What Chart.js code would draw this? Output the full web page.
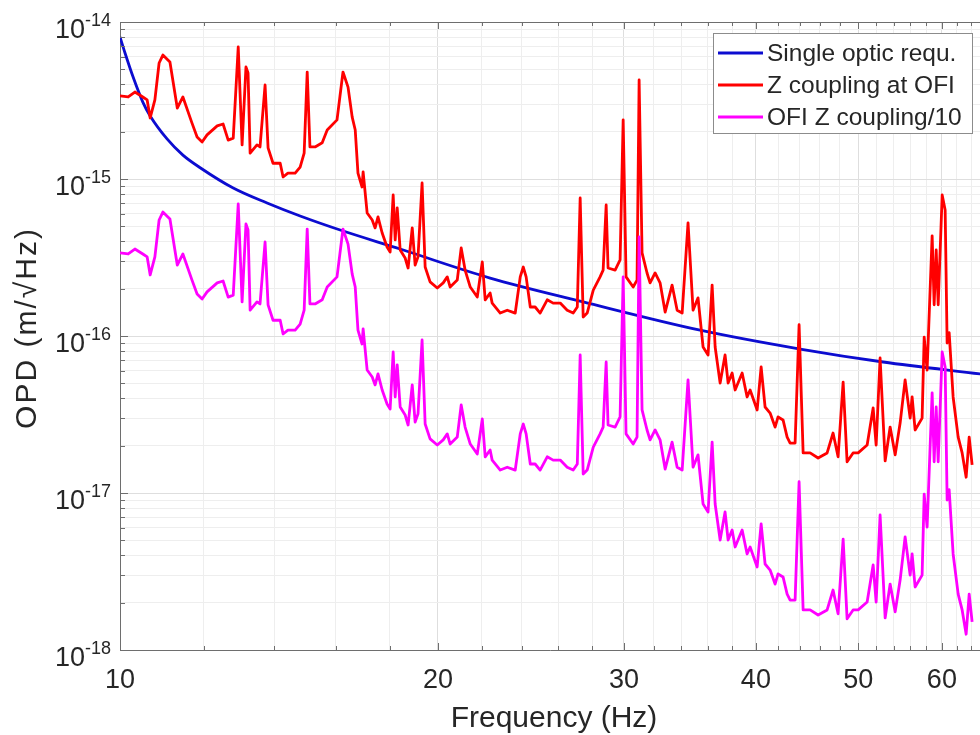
<!DOCTYPE html>
<html>
<head>
<meta charset="utf-8">
<script src="https://cdn.jsdelivr.net/npm/chart.js@4/dist/chart.umd.min.js"></script>
<style>
html,body{margin:0;padding:0;background:#fff;}
#wrap{width:980px;height:735px;position:relative;}
</style>
</head>
<body>
<div id="wrap"><canvas id="c" width="980" height="735"></canvas></div>
<script>
// ---- data ----
const seriesNames = ['Single optic requ.', 'Z coupling at OFI', 'OFI Z coupling/10'];

const requFreq = [10.00,10.11,10.29,10.51,10.68,11.08,11.47,11.91,12.80,13.78,14.81,16.16,18.42,22.41,27.45,35.42,44.06,52.79,65.22];
const requOPD  = [8.03e-15,6.35e-15,4.46e-15,3.09e-15,2.52e-15,1.80e-15,1.42e-15,1.18e-15,8.76e-16,7.03e-16,5.81e-16,4.73e-16,3.58e-16,2.34e-16,1.65e-16,1.09e-16,8.26e-17,6.83e-17,5.73e-17];

const zFreq = [
 10.0,10.18,10.33,10.51,10.61,10.68,10.79,10.89,10.98,11.15,
 11.33,11.47,11.70,11.83,11.96,12.09,12.36,12.52,12.66,12.80,
 12.94,13.05,13.16,13.22,13.28,13.48,13.57,13.72,13.81,13.96,
 14.18,14.27,14.42,14.65,14.81,14.94,15.04,15.13,15.30,15.54,
 15.71,16.05,16.26,16.44,16.59,16.70,16.80,16.95,16.99,17.14,
 17.33,17.44,17.55,17.71,17.90,18.02,18.14,18.22,18.30,18.42,
 18.62,18.74,18.91,19.03,19.15,19.32,19.45,19.66,19.97,20.23,
 20.41,20.54,20.86,21.04,21.22,21.46,21.79,22.03,22.17,22.41,
 22.51,22.91,23.26,23.67,23.93,24.09,24.24,24.46,24.72,24.99,
 25.38,25.71,26.11,26.51,26.86,27.10,27.27,27.45,27.69,28.06,
 28.48,28.67,28.86,28.98,29.43,29.75,29.95,30.14,30.61,30.87,
 31.01,31.21,31.55,31.76,32.11,32.46,32.82,33.32,33.69,34.06,
 34.50,34.88,35.26,35.65,36.04,36.36,36.60,37.00,37.40,37.65,
 37.98,38.23,38.82,39.24,39.50,40.11,40.46,40.81,41.26,41.71,
 41.98,42.44,42.82,43.10,43.57,43.95,44.34,45.02,45.81,46.72,
 47.33,47.85,48.38,48.80,49.44,49.99,50.98,51.65,51.99,52.44,
 53.02,53.60,54.19,54.78,55.38,55.99,56.23,56.60,57.47,57.73,
 58.10,58.74,59.00,59.26,59.52,60.04,60.43,60.69,60.96,61.49,
 62.17,62.71,63.26,63.68,64.09];

const zOPD = [
 3.38e-15,3.33e-15,3.58e-15,3.33e-15,3.19e-15,2.45e-15,3.19e-15,5.48e-15,6.16e-15,5.56e-15,
 2.83e-15,3.33e-15,2.27e-15,1.85e-15,1.72e-15,1.91e-15,2.18e-15,2.24e-15,1.77e-15,1.82e-15,
 6.93e-15,1.65e-15,5.17e-15,4.73e-15,1.46e-15,1.65e-15,1.60e-15,3.97e-15,1.58e-15,1.26e-15,
 1.26e-15,1.03e-15,1.09e-15,1.09e-15,1.19e-15,1.46e-15,4.80e-15,1.60e-15,1.60e-15,1.70e-15,
 2.05e-15,2.38e-15,4.80e-15,3.85e-15,2.48e-15,2.05e-15,1.09e-15,8.89e-16,1.11e-15,6.07e-16,
 5.48e-16,4.88e-16,5.73e-16,4.53e-16,3.69e-16,3.43e-16,7.91e-16,4.09e-16,6.54e-16,3.53e-16,
 3.14e-16,2.71e-16,4.88e-16,2.83e-16,3.19e-16,9.43e-16,2.75e-16,2.21e-16,2.02e-16,2.18e-16,
 2.38e-16,2.05e-16,2.27e-16,3.64e-16,2.63e-16,2.05e-16,1.77e-16,2.96e-16,1.70e-16,1.88e-16,
 1.62e-16,1.40e-16,1.46e-16,1.40e-16,2.38e-16,2.75e-16,2.38e-16,1.53e-16,1.53e-16,1.40e-16,
 1.70e-16,1.62e-16,1.62e-16,1.46e-16,1.40e-16,1.53e-16,7.57e-16,1.32e-16,1.40e-16,1.96e-16,
 2.38e-16,2.63e-16,6.83e-16,2.71e-16,2.63e-16,3.05e-16,2.38e-15,2.38e-16,2.05e-16,2.27e-16,
 4.27e-15,3.38e-16,2.52e-16,2.18e-16,2.52e-16,2.18e-16,1.42e-16,2.11e-16,1.46e-16,1.40e-16,
 5.25e-16,1.46e-16,1.75e-16,8.51e-17,7.57e-17,2.11e-16,8.51e-17,5.02e-17,7.57e-17,5.02e-17,
 5.81e-17,4.53e-17,5.81e-17,4.09e-17,4.53e-17,3.38e-17,6.35e-17,3.53e-17,3.23e-17,2.63e-17,
 3.05e-17,2.92e-17,2.27e-17,2.08e-17,2.08e-17,1.18e-16,1.80e-17,1.80e-17,1.67e-17,1.80e-17,
 2.41e-17,1.70e-17,5.09e-17,1.58e-17,1.80e-17,1.80e-17,2.02e-17,3.48e-17,2.02e-17,7.24e-17,
 1.60e-17,2.63e-17,1.75e-17,2.79e-17,5.25e-17,3.00e-17,4.09e-17,2.52e-17,3.00e-17,9.85e-17,
 6.07e-17,4.34e-16,1.58e-16,3.53e-16,1.58e-16,7.91e-16,6.35e-16,9.02e-17,1.05e-16,4.09e-17,
 2.27e-17,1.80e-17,1.26e-17,2.27e-17,1.51e-17];

// third series is, as its legend says, the Z coupling divided by 10
const ofiOPD = zOPD.map(v => v / 10);

const xTickValues = [10,12,14,16,18,20,22,24,26,28,30,32,34,36,38,40,42,44,46,48,50,52,54,56,58,60,62,64];
const xTickLabels = [10,20,30,40,50,60];
const yTickExponents = [-18,-17,-16,-15,-14];
const xRange = [10, 65.2];
const yRange = [1e-18, 1e-14];

// ---- styling ----
const FONT = "'Liberation Sans', Arial, Helvetica, sans-serif";
const TXT = '#262626';
const AXIS = '#6e6e6e';
const COLORS = ['#0c0cd0', '#ff0000', '#ff00ff'];

const pts = (xs, ys) => xs.map((x, i) => ({x, y: ys[i]}));
const isDecade = v => Math.abs(Math.log10(v) - Math.round(Math.log10(v))) < 1e-9;

const yTickValues = [];
for (let e = yTickExponents[0]; e < yTickExponents[yTickExponents.length - 1]; e++) {
  for (let m = 1; m <= 9; m++) yTickValues.push(m * Math.pow(10, e));
}
yTickValues.push(Math.pow(10, yTickExponents[yTickExponents.length - 1]));

const decor = {
  id: 'decor',
  afterDraw(chart) {
    const {ctx, chartArea: a, scales: {x, y}} = chart;
    ctx.save();
    // top box line
    ctx.strokeStyle = AXIS; ctx.lineWidth = 1;
    ctx.beginPath();
    ctx.moveTo(a.left, a.top + 0.5); ctx.lineTo(a.right, a.top + 0.5);
    // inward ticks
    xTickValues.forEach(v => {
      const px = Math.round(x.getPixelForValue(v)) + 0.5;
      const L = (v % 10 === 0) ? 7 : 4;
      ctx.moveTo(px, a.bottom); ctx.lineTo(px, a.bottom - L);
      ctx.moveTo(px, a.top); ctx.lineTo(px, a.top + L);
    });
    yTickValues.forEach(v => {
      const py = Math.round(y.getPixelForValue(v)) + 0.5;
      const L = isDecade(v) ? 8 : 5;
      ctx.moveTo(a.left, py); ctx.lineTo(a.left + L, py);
    });
    ctx.stroke();

    // x tick labels
    ctx.fillStyle = TXT;
    ctx.font = `27px ${FONT}`;
    ctx.textAlign = 'center'; ctx.textBaseline = 'alphabetic';
    xTickLabels.forEach(v => ctx.fillText(String(v), x.getPixelForValue(v), 688));

    // y tick labels 10^e
    yTickExponents.forEach(e => {
      const py = y.getPixelForValue(Math.pow(10, e));
      ctx.font = `18px ${FONT}`;
      const sup = String(e);
      const w = ctx.measureText(sup).width;
      ctx.textAlign = 'right';
      ctx.fillText(sup, 111, py + 4);
      ctx.font = `27px ${FONT}`;
      ctx.fillText('10', 111 - w, py + 16);
    });

    // axis titles
    ctx.font = `30px ${FONT}`;
    ctx.textAlign = 'center';
    ctx.fillText('Frequency (Hz)', 554, 727);
    ctx.save();
    ctx.translate(36, 328);
    ctx.rotate(-Math.PI / 2);
    try { ctx.letterSpacing = '2px'; } catch (err) {}
    ctx.fillText('OPD (m/\u221AHz)', 0, 0);
    try { ctx.letterSpacing = '0px'; } catch (err) {}
    ctx.restore();

    // legend
    const lx = 713, ly = 33, lw = 259, lh = 100;
    ctx.fillStyle = '#ffffff';
    ctx.fillRect(lx, ly, lw, lh);
    ctx.strokeStyle = '#8c8c8c'; ctx.lineWidth = 1;
    ctx.strokeRect(lx + 0.5, ly + 0.5, lw, lh);
    ctx.font = `24.5px ${FONT}`;
    ctx.textAlign = 'left'; ctx.textBaseline = 'middle';
    seriesNames.forEach((name, i) => {
      const ry = 53 + i * 32;
      ctx.strokeStyle = COLORS[i]; ctx.lineWidth = 2.8;
      ctx.beginPath(); ctx.moveTo(718, ry); ctx.lineTo(763, ry); ctx.stroke();
      ctx.fillStyle = TXT;
      ctx.fillText(name, 767, ry + 1);
    });
    ctx.restore();
  }
};

new Chart(document.getElementById('c'), {
  type: 'line',
  data: {
    datasets: [
      {label: seriesNames[0], data: pts(requFreq, requOPD), borderColor: COLORS[0], borderWidth: 2.8,
       cubicInterpolationMode: 'monotone', order: 3},
      {label: seriesNames[1], data: pts(zFreq, zOPD), borderColor: COLORS[1], borderWidth: 2.8,
       tension: 0, borderJoinStyle: 'round', order: 2},
      {label: seriesNames[2], data: pts(zFreq, ofiOPD), borderColor: COLORS[2], borderWidth: 2.8,
       tension: 0, borderJoinStyle: 'round', order: 1}
    ]
  },
  options: {
    responsive: false,
    devicePixelRatio: 1,
    animation: false,
    parsing: true,
    elements: {point: {radius: 0}},
    layout: {padding: {top: 22, right: 0, left: 0, bottom: 0}},
    plugins: {legend: {display: false}, tooltip: {enabled: false}, title: {display: false}},
    scales: {
      x: {
        type: 'logarithmic', min: xRange[0], max: xRange[1],
        afterBuildTicks: s => { s.ticks = xTickValues.map(v => ({value: v, major: v % 10 === 0})); },
        afterFit: s => { s.height = 85; },
        ticks: {display: false},
        grid: {drawTicks: false, lineWidth: 1,
               color: c => (c.tick && c.tick.value % 10 === 0) ? '#dedede' : '#eeeeee'},
        border: {display: true, color: AXIS, width: 1}
      },
      y: {
        type: 'logarithmic', min: yRange[0], max: yRange[1],
        afterBuildTicks: s => { s.ticks = yTickValues.map(v => ({value: v, major: isDecade(v)})); },
        afterFit: s => { s.width = 120; },
        ticks: {display: false},
        grid: {drawTicks: false, lineWidth: 1,
               color: c => (c.tick && isDecade(c.tick.value)) ? '#dedede' : '#eeeeee'},
        border: {display: true, color: AXIS, width: 1}
      }
    }
  },
  plugins: [decor]
});
</script>
</body>
</html>
